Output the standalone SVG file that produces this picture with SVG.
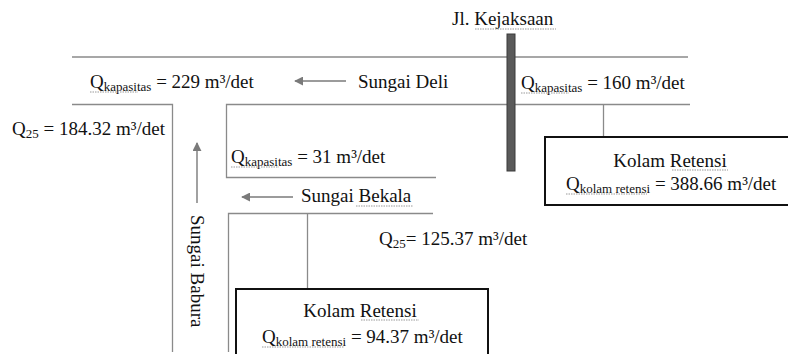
<svg xmlns="http://www.w3.org/2000/svg" width="788" height="354" viewBox="0 0 788 354">
<style>
text{font-family:"Liberation Serif","Times New Roman",serif;font-size:19px;fill:#111}
.sub{font-size:13px}
.ln{stroke:#8a8a8a;stroke-width:1.3;fill:none}
.arr{stroke:#7a7a7a;stroke-width:1.4;fill:none;marker-end:url(#ah)}
.box{fill:#fff;stroke:#111;stroke-width:2}
.sq{stroke:#999;stroke-width:1;fill:none;stroke-dasharray:1.5 1}
</style>
<defs>
<marker id="ah" viewBox="0 0 10 10" refX="9" refY="5" markerWidth="9" markerHeight="9" markerUnits="userSpaceOnUse" orient="auto">
<path d="M0,0 L10,5 L0,10 z" fill="#7a7a7a"/>
</marker>
</defs>
<rect width="788" height="354" fill="#fff"/>
<g id="rivers">
<path class="ln" d="M72,57 H688"/>
<path class="ln" d="M72,104.5 H172.5 V352"/>
<path class="ln" d="M690,104.5 H226.5 V177.5 H436"/>
<path class="ln" d="M433,213.5 H228.5 V352"/>
</g>
<g id="connectors">
<path class="ln" d="M603.5,104.5 V137"/>
<path class="ln" d="M307.5,213.5 V288"/>
<path class="arr" d="M346,81 H295"/>
<path class="arr" d="M293,197 H242"/>
<path class="arr" d="M197,203 V143"/>
</g>
<g id="road">
<rect x="507" y="34" width="8" height="137" fill="#5a5a5a" stroke="#3a3a3a" stroke-width="1"/>
<text x="452" y="25">Jl. Kejaksaan</text>
<path class="sq" d="M475,29 H556"/>
</g>
<g id="sungai-deli">
<text x="90" y="88">Q<tspan class="sub" dy="3">kapasitas</tspan><tspan dy="-3"> = 229 m³/det</tspan></text>
<path class="sq" d="M90,92 H138"/>
<text x="358" y="88">Sungai Deli</text>
<text x="521" y="89">Q<tspan class="sub" dy="3">kapasitas</tspan><tspan dy="-3"> = 160 m³/det</tspan></text>
<path class="sq" d="M521,93 H569"/>
</g>
<g id="sungai-babura">
<text x="12" y="135">Q<tspan class="sub" dy="3">25</tspan><tspan dy="-3"> = 184.32 m³/det</tspan></text>
<text transform="translate(191,215) rotate(90)" x="0" y="0">Sungai Babura</text>
</g>
<g id="sungai-bekala">
<text x="231" y="163">Q<tspan class="sub" dy="3">kapasitas</tspan><tspan dy="-3"> = 31 m³/det</tspan></text>
<path class="sq" d="M231,167 H279"/>
<text x="301" y="202">Sungai Bekala</text>
<path class="sq" d="M356,206 H413"/>
<text x="379" y="245">Q<tspan class="sub" dy="3">25</tspan><tspan dy="-3">= 125.37 m³/det</tspan></text>
</g>
<g id="kolam-retensi-1">
<rect class="box" x="545" y="137" width="246" height="68"/>
<text x="670" y="167" text-anchor="middle">Kolam Retensi</text>
<path class="sq" d="M672,170 H728"/>
<text x="566" y="190">Q<tspan class="sub" dy="3">kolam retensi</tspan><tspan dy="-3"> = 388.66 m³/det</tspan></text>
<path class="sq" d="M566,194 H647"/>
</g>
<g id="kolam-retensi-2">
<rect class="box" x="236" y="289" width="252" height="72"/>
<text x="360" y="317" text-anchor="middle">Kolam Retensi</text>
<path class="sq" d="M361,320 H419"/>
<text x="262" y="343">Q<tspan class="sub" dy="3">kolam retensi</tspan><tspan dy="-3"> = 94.37 m³/det</tspan></text>
<path class="sq" d="M262,347 H344"/>
</g>
</svg>
